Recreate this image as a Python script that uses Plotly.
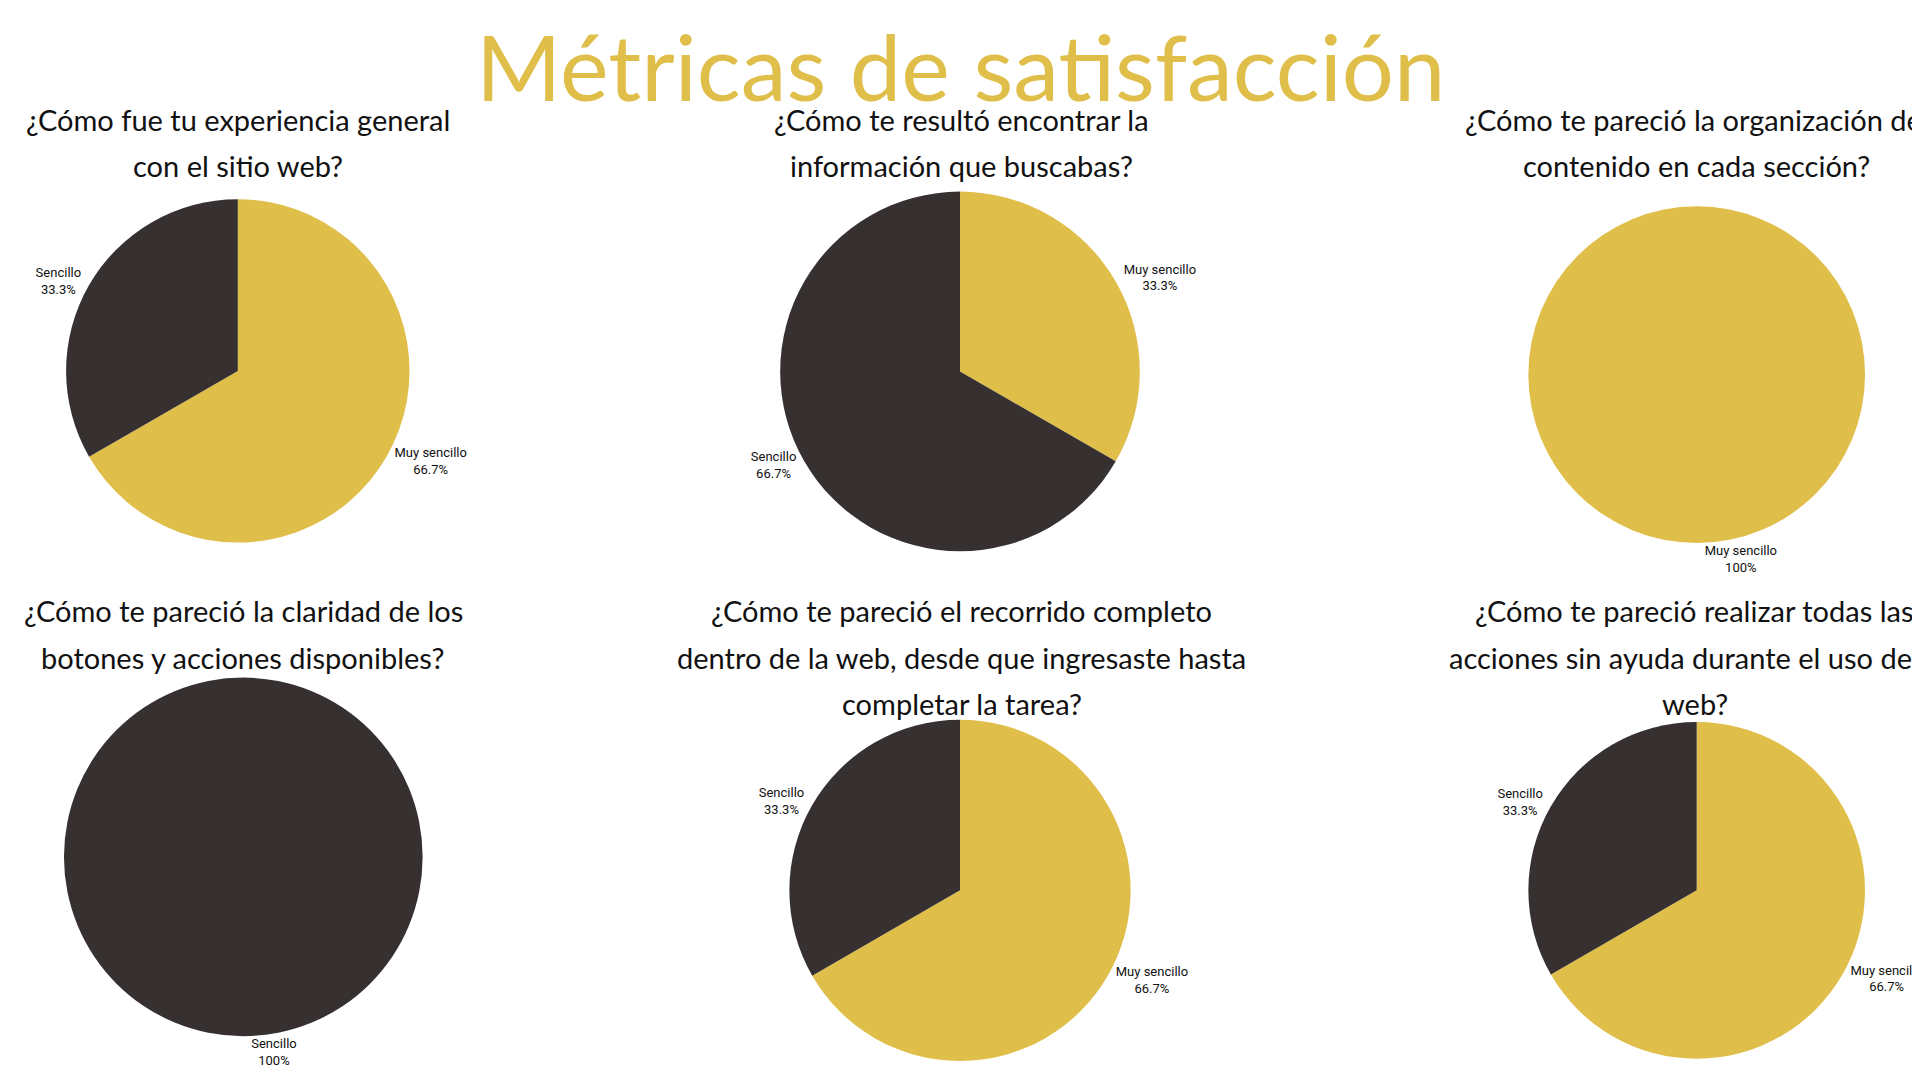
import plotly.graph_objects as go

GOLD = "#E0BE4A"
DARK = "#363130"

questions = [
    "¿Cómo fue tu experiencia general<br>con el sitio web?",
    "¿Cómo te resultó encontrar la<br>información que buscabas?",
    "¿Cómo te pareció la organización del<br>contenido en cada sección?",
    "¿Cómo te pareció la claridad de los<br>botones y acciones disponibles?",
    "¿Cómo te pareció el recorrido completo<br>dentro de la web, desde que ingresaste hasta<br>completar la tarea?",
    "¿Cómo te pareció realizar todas las<br>acciones sin ayuda durante el uso de la<br>web?",
]
labels = [
    ["Muy sencillo", "Sencillo"],
    ["Muy sencillo", "Sencillo"],
    ["Muy sencillo"],
    ["Sencillo"],
    ["Muy sencillo", "Sencillo"],
    ["Muy sencillo", "Sencillo"],
]
values = [
    [2, 1],
    [1, 2],
    [3],
    [3],
    [2, 1],
    [2, 1],
]

# pie domains (x, y) in paper coords
domains = [
    ([0.000, 0.202], [0.505, 0.823]),
    ([0.350, 0.650], [0.497, 0.830]),
    ([0.814, 1.000], [0.497, 0.824]),
    ([0.000, 0.208], [0.048, 0.380]),
    ([0.350, 0.650], [0.025, 0.341]),
    ([0.814, 1.000], [0.025, 0.341]),
]
title_x = [0.101, 0.501, 0.907, 0.104, 0.501, 0.906]
title_y = [0.915, 0.915, 0.915, 0.460, 0.460, 0.460]
line_step = 0.043

colmap = {"Muy sencillo": GOLD, "Sencillo": DARK}

fig = go.Figure()
for lab, val, (dx, dy) in zip(labels, values, domains):
    fig.add_trace(go.Pie(
        labels=lab, values=val, sort=False, direction="clockwise", rotation=0,
        marker=dict(colors=[colmap[l] for l in lab]),
        textinfo="label+percent", textposition="outside",
        textfont=dict(size=13, color="#111", family="Roboto"),
        domain=dict(x=dx, y=dy), showlegend=False, hoverinfo="label+percent",
    ))

for q, x, y in zip(questions, title_x, title_y):
    for i, line in enumerate(q.split("<br>")):
        fig.add_annotation(text=line, x=x, y=y - i * line_step, xref="paper", yref="paper",
                           xanchor="center", yanchor="top", showarrow=False,
                           font=dict(size=29, color="#111", family="Lato"))

fig.add_annotation(text="Métricas de satisfacción", x=0.5, y=1.0, xref="paper", yref="paper",
                   xanchor="center", yanchor="top", showarrow=False,
                   font=dict(size=92, color=GOLD, family="Lato"))

fig.update_layout(width=1920, height=1080, margin=dict(l=0, r=0, t=0, b=0),
                  paper_bgcolor="white", plot_bgcolor="white")

fig.write_html("out.html")
